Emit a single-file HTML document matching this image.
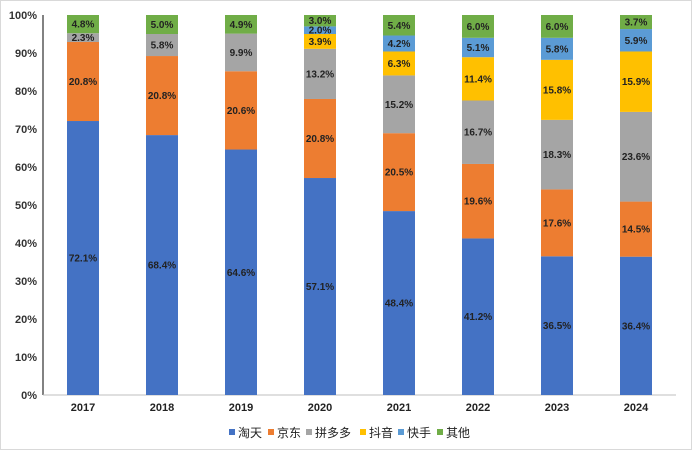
<!DOCTYPE html>
<html><head><meta charset="utf-8">
<style>
body{margin:0;background:#fff;}
svg{display:block;font-family:"Liberation Sans","Noto Sans CJK SC",sans-serif;}
</style></head>
<body>
<svg id="chart" width="692" height="450">
<rect x="0.5" y="0.5" width="691" height="449" fill="#fff" stroke="#d9d9d9"/>
<g id="axis"></g><g id="bars"></g><g id="legend"></g>
</svg>
<script>
const categories=["2017","2018","2019","2020","2021","2022","2023","2024"];
const seriesNames=["淘天","京东","拼多多","抖音","快手","其他"];
const taotian=[72.1,68.4,64.6,57.1,48.4,41.2,36.5,36.4];
const jingdong=[20.8,20.8,20.6,20.8,20.5,19.6,17.6,14.5];
const pinduoduo=[2.3,5.8,9.9,13.2,15.2,16.7,18.3,23.6];
const douyin=[0,0,0,3.9,6.3,11.4,15.8,15.9];
const kuaishou=[0,0,0,2.0,4.2,5.1,5.8,5.9];
const qita=[4.8,5.0,4.9,3.0,5.4,6.0,6.0,3.7];
const yTicks=[0,10,20,30,40,50,60,70,80,90,100];
const series=[taotian,jingdong,pinduoduo,douyin,kuaishou,qita];
const colors=["#4472c4","#ed7d31","#a5a5a5","#ffc000","#5b9bd5","#70ad47"];
const ns="http://www.w3.org/2000/svg";
const yTop=15,yBottom=395,x0=83,step=79,bw=32;
const y=v=>yBottom-(yBottom-yTop)*v/100;
const xc=i=>x0+i*step;
function mk(tag,attrs,parent,text){const e=document.createElementNS(ns,tag);for(const k in attrs)e.setAttribute(k,attrs[k]);if(text!==undefined)e.textContent=text;parent.appendChild(e);return e;}
const ax=document.getElementById('axis');
let l=mk('line',{x1:43,y1:yTop,x2:43,y2:yBottom,stroke:'#595959','stroke-width':1.5},ax);


l=mk('line',{x1:43,y1:yBottom,x2:676,y2:yBottom,stroke:'#bfbfbf','stroke-width':1},ax);


yTicks.forEach(t=>{const e=mk('text',{x:37,y:y(t)+4,'text-anchor':'end','font-size':11,'font-weight':'bold',fill:'#333'},ax,t+'%');

});
categories.forEach((c,i)=>{const e=mk('text',{x:xc(i),y:411,'text-anchor':'middle','font-size':11,'font-weight':'bold',fill:'#222'},ax,c);

});
const bg=document.getElementById('bars');
categories.forEach((c,i)=>{let acc=0;
series.forEach((s,k)=>{const v=s[i];if(!v){return;}
const r=mk('rect',{x:xc(i)-bw/2,y:y(acc+v),width:bw,height:y(acc)-y(acc+v),fill:colors[k]},bg);


const t=mk('text',{x:xc(i),y:(y(acc)+y(acc+v))/2+3.5,'text-anchor':'middle','font-size':10,'font-weight':'bold',fill:'#222'},bg,v.toFixed(1)+'%');


acc+=v;});});
const lg=document.getElementById('legend');
const lx=[229,268,306,360,398,437];
seriesNames.forEach((n,k)=>{const r=mk('rect',{x:lx[k],y:429,width:6,height:6,fill:colors[k]},lg);


const t=mk('text',{x:lx[k]+9,y:437,'font-size':12,fill:'#222'},lg,n);

});
</script>
</body></html>
